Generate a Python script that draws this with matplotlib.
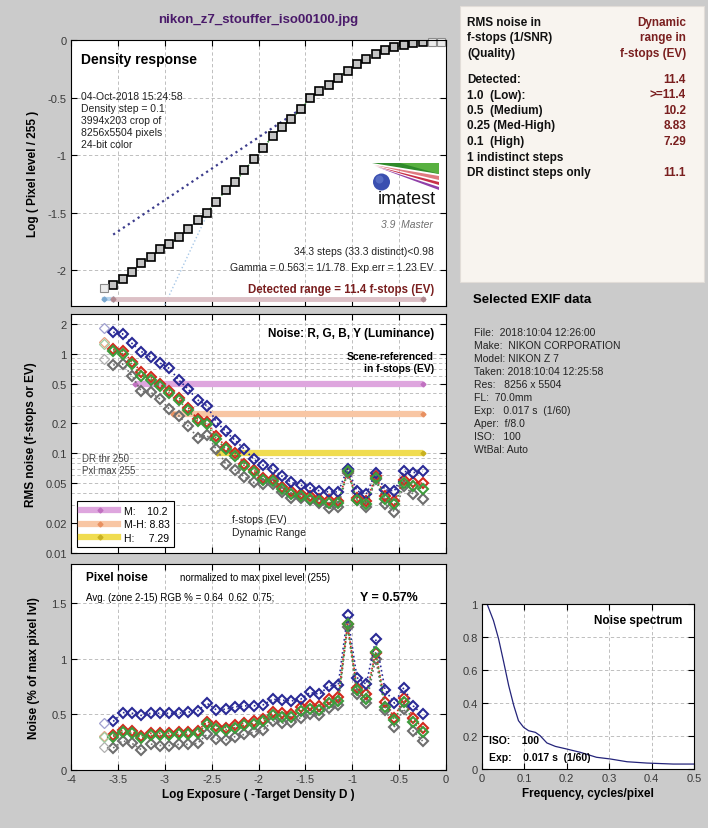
import numpy as np
import matplotlib
matplotlib.use("Agg")
import matplotlib.pyplot as plt
from matplotlib.lines import Line2D
from matplotlib.patches import Rectangle, Polygon, Circle
from matplotlib.ticker import FixedLocator, NullFormatter

plt.rcParams['font.family'] = ['Liberation Sans', 'DejaVu Sans']

# ---- data ----
log_exp = [-3.55, -3.45, -3.35, -3.25, -3.15, -3.05, -2.95, -2.85, -2.75, -2.65,
           -2.55, -2.45, -2.35, -2.25, -2.15, -2.05, -1.95, -1.85, -1.75, -1.65,
           -1.55, -1.45, -1.35, -1.25, -1.15, -1.05, -0.95, -0.85, -0.75, -0.65,
           -0.55, -0.45, -0.35, -0.25]
x_dark = -3.65                     # indistinct (lightest patch)
x_sat = [-0.15, -0.05]             # saturated patches

density = [-2.129, -2.074, -2.016, -1.939, -1.884, -1.818, -1.774, -1.714, -1.640, -1.564,
           -1.500, -1.406, -1.303, -1.234, -1.131, -1.036, -0.935, -0.838, -0.752, -0.683,
           -0.603, -0.508, -0.442, -0.393, -0.327, -0.267, -0.207, -0.161, -0.118, -0.089,
           -0.063, -0.046, -0.026, -0.020]
density_dark = -2.155
density_sat = [-0.014, -0.014]
gamma_fit_x = [-3.55, -1.55]
gamma_fit_y = [-1.69, -0.60]
aux_fit_x = [-3.0, -2.55]
aux_fit_y = [-2.30, -1.52]

rms_R = [1.11, 1.07, 0.83, 0.66, 0.58, 0.495, 0.425, 0.363, 0.288, 0.22,
         0.204, 0.149, 0.117, 0.10, 0.079, 0.068, 0.057, 0.055, 0.046, 0.042,
         0.039, 0.037, 0.035, 0.034, 0.033, 0.066, 0.036, 0.033, 0.059, 0.037,
         0.033, 0.054, 0.052, 0.050]
rms_G = [1.07, 1.0, 0.78, 0.6, 0.55, 0.47, 0.40, 0.34, 0.27, 0.21,
         0.195, 0.14, 0.11, 0.095, 0.075, 0.065, 0.054, 0.053, 0.044, 0.039,
         0.037, 0.035, 0.033, 0.032, 0.032, 0.066, 0.034, 0.031, 0.056, 0.035,
         0.031, 0.05, 0.047, 0.044]
rms_B = [1.64, 1.58, 1.27, 1.05, 0.92, 0.805, 0.71, 0.543, 0.44, 0.344,
         0.30, 0.207, 0.166, 0.135, 0.11, 0.087, 0.076, 0.070, 0.059, 0.051,
         0.048, 0.045, 0.042, 0.041, 0.041, 0.070, 0.042, 0.039, 0.064, 0.043,
         0.042, 0.066, 0.064, 0.066]
rms_Y = [0.77, 0.79, 0.60, 0.42, 0.41, 0.35, 0.277, 0.238, 0.188, 0.144,
         0.152, 0.11, 0.079, 0.068, 0.058, 0.051, 0.049, 0.049, 0.041, 0.036,
         0.036, 0.034, 0.032, 0.028, 0.029, 0.064, 0.034, 0.029, 0.055, 0.031,
         0.026, 0.047, 0.039, 0.035]
rms_dark = {"R": 1.30, "G": 1.25, "B": 1.81, "Y": 0.88}

pix_R = [0.31, 0.36, 0.346, 0.307, 0.33, 0.33, 0.33, 0.34, 0.34, 0.35,
         0.433, 0.397, 0.38, 0.405, 0.42, 0.436, 0.457, 0.52, 0.516, 0.507,
         0.57, 0.585, 0.576, 0.636, 0.657, 1.307, 0.74, 0.68, 1.054, 0.61,
         0.47, 0.65, 0.47, 0.373]
pix_G = [0.30, 0.34, 0.33, 0.29, 0.31, 0.31, 0.31, 0.32, 0.32, 0.33,
         0.41, 0.37, 0.36, 0.38, 0.40, 0.41, 0.44, 0.49, 0.48, 0.48,
         0.53, 0.55, 0.54, 0.60, 0.62, 1.31, 0.72, 0.64, 1.06, 0.57,
         0.45, 0.61, 0.43, 0.34]
pix_B = [0.436, 0.516, 0.51, 0.49, 0.51, 0.51, 0.51, 0.51, 0.52, 0.53,
         0.60, 0.54, 0.546, 0.567, 0.576, 0.576, 0.585, 0.636, 0.627, 0.62,
         0.636, 0.696, 0.68, 0.755, 0.76, 1.388, 0.83, 0.77, 1.173, 0.72,
         0.60, 0.74, 0.576, 0.50]
pix_Y = [0.197, 0.263, 0.24, 0.182, 0.233, 0.22, 0.22, 0.23, 0.23, 0.24,
         0.32, 0.28, 0.27, 0.30, 0.32, 0.34, 0.36, 0.44, 0.42, 0.43,
         0.47, 0.50, 0.49, 0.56, 0.58, 1.28, 0.68, 0.60, 1.0, 0.54,
         0.39, 0.55, 0.35, 0.26]
pix_dark = {"R": 0.307, "G": 0.30, "B": 0.42, "Y": 0.21}

# dynamic range per quality level (f-stops)
dr_labels = ["M:    10.2", "M-H: 8.83", "H:     7.29"]
dr_stops = [10.2, 8.83, 7.29]
dr_thresh = [0.5, 0.25, 0.1]

spec_f = [0.012, 0.027, 0.039, 0.051, 0.063, 0.075, 0.086, 0.098, 0.11, 0.126,
          0.137, 0.153, 0.173, 0.2, 0.232, 0.27, 0.302, 0.342, 0.389, 0.451, 0.5]
spec_v = [1.0, 0.90, 0.79, 0.65, 0.505, 0.384, 0.293, 0.253, 0.232, 0.222,
          0.202, 0.158, 0.137, 0.121, 0.101, 0.071, 0.061, 0.044, 0.036, 0.030, 0.030]

# ---- styling ----
W, H = 708, 829
BG = "#cbcbcb"
GRID = dict(ls=(0, (4, 3)), color="#b4b4b4", lw=0.6)
COL = {"R": "#d42a1e", "G": "#3c9c3c", "B": "#2a2a96", "Y": "#6e6e6e"}
COL_LT = {"R": "#e8a080", "G": "#a0cca0", "B": "#a0a0d0", "Y": "#b0b0b0"}
DR_COL = ["#dea6de", "#f8c6a4", "#f0dc50"]
DR_DARK = ["#c070c0", "#e89060", "#c8b020"]
DRED = "#7a1f1f"


def ax_px(x0, y0, x1, y1):
    return [x0 / W, 1 - y1 / H, (x1 - x0) / W, (y1 - y0) / H]


def style(ax):
    ax.set_facecolor("white")
    ax.tick_params(direction="in", length=4, top=True, right=True,
                   labelsize=8, labelcolor="#3a3a3a", pad=3)
    ax.tick_params(which="minor", length=0)
    for s in ax.spines.values():
        s.set_linewidth(0.8)
    ax.grid(True, which="both", **GRID)
    ax.set_axisbelow(True)


fig = plt.figure(figsize=(W / 100, H / 100), dpi=100, facecolor=BG)

xt = [-4, -3.5, -3, -2.5, -2, -1.5, -1, -0.5, 0]
xtl = ["-4", "-3.5", "-3", "-2.5", "-2", "-1.5", "-1", "-0.5", "0"]

# ---- density response ----
ax1 = fig.add_axes(ax_px(71, 41, 446, 307))
style(ax1)
ax1.set_xlim(-4, 0); ax1.set_ylim(-2.31, 0)
ax1.set_xticks(xt); ax1.set_xticklabels([])
ax1.set_yticks([0, -0.5, -1, -1.5, -2]); ax1.set_yticklabels(["0", "-0.5", "-1", "-1.5", "-2"])
ax1.plot(aux_fit_x, aux_fit_y, ls=":", color="#a8c8e8", lw=1)
ax1.plot(gamma_fit_x, gamma_fit_y, ls=":", color="#3c3c8c", lw=1.6)
ax1.plot(log_exp, density, ls=":", color="#3a8a3a", lw=1.2)
ax1.plot(log_exp, density, ls="none", marker="s", ms=6.3, mfc="#c4c4c4", mec="k", mew=1.2)
ax1.plot([x_dark] + x_sat, [density_dark] + density_sat, ls="none", marker="s", ms=6.3,
         mfc="#ececec", mec="#8c8c8c", mew=0.8, clip_on=False)
bar_y = -2.245
ax1.plot([x_dark, log_exp[0]], [bar_y, bar_y], color="#b8d4ec", lw=3,
         marker="D", ms=2.5, mfc="#7aa8d0", mec="#7aa8d0")
ax1.plot([log_exp[0], log_exp[-1]], [bar_y, bar_y], color="#dcc0c6", lw=3.5,
         marker="D", ms=2.5, mfc="#b08890", mec="#b08890")
ax1.set_ylabel("Log ( Pixel level / 255 )", fontsize=8.5, fontweight="bold", labelpad=6)
ax1.text(0.027, 0.929, "Density response", transform=ax1.transAxes, fontsize=10,
         fontweight="bold", va="center")
ax1.text(0.027, 0.81, "04-Oct-2018 15:24:58\nDensity step = 0.1\n3994x203 crop of\n"
         "8256x5504 pixels\n24-bit color", transform=ax1.transAxes, fontsize=7.5,
         va="top", linespacing=1.25, color="#222222")
ax1.text(0.968, 0.207, "34.3 steps (33.3 distinct)<0.98", transform=ax1.transAxes,
         fontsize=7.5, ha="right", va="center", color="#222222")
ax1.text(0.968, 0.147, "Gamma = 0.563 = 1/1.78  Exp err = 1.23 EV", transform=ax1.transAxes,
         fontsize=7.5, ha="right", va="center", color="#222222")
ax1.text(0.968, 0.064, "Detected range = 11.4 f-stops (EV)", transform=ax1.transAxes,
         fontsize=8.3, ha="right", va="center", color=DRED, fontweight="bold")
ax1.text(0.965, 0.308, "3.9  Master", transform=ax1.transAxes, fontsize=7.5,
         ha="right", va="center", color="#707070", style="italic")

# imatest logo
lg = fig.add_axes(ax_px(370, 162, 442, 208))
lg.set_xlim(0, 72); lg.set_ylim(46, 0); lg.axis("off")
lg.add_patch(Polygon([(2, 2), (69, 2), (69, 13)], color="#2f8a2a", lw=0))
lg.add_patch(Polygon([(30, 2), (69, 2), (69, 13)], color="#58b040", lw=0))
lg.add_patch(Polygon([(4, 4), (69, 15), (69, 19)], color="#e07a80", lw=0))
lg.add_patch(Polygon([(5, 5), (69, 21), (69, 24)], color="#c83048", lw=0))
lg.add_patch(Polygon([(7, 6), (69, 26), (69, 29)], color="#9040a8", lw=0))
lg.add_patch(Circle((11.5, 21), 8.5, color="#3a4fb0", lw=0))
lg.add_patch(Circle((9.5, 18.5), 4, color="#6a80d0", lw=0, alpha=0.6))
lg.text(37, 42, "imatest", fontsize=13, ha="center", va="baseline", color="#111111")

# ---- RMS noise in f-stops ----
ax2 = fig.add_axes(ax_px(71, 315, 446, 554))
style(ax2)
ax2.set_yscale("log")
ax2.set_xlim(-4, 0); ax2.set_ylim(0.01, 2.5)
ax2.set_xticks(xt); ax2.set_xticklabels([])
majors = [0.01, 0.02, 0.05, 0.1, 0.2, 0.5, 1, 2]
ax2.yaxis.set_major_locator(FixedLocator(majors))
ax2.set_yticklabels(["0.01", "0.02", "0.05", "0.1", "0.2", "0.5", "1", "2"])
ax2.yaxis.set_minor_locator(FixedLocator([m * d for d in (0.01, 0.1, 1) for m in (3, 4, 6, 7, 8, 9)]))
ax2.yaxis.set_minor_formatter(NullFormatter())
for k, thr, dr in zip(range(3), dr_thresh, dr_stops):
    x0 = log_exp[-1] - dr * np.log10(2)
    ax2.plot([x0, log_exp[-1]], [thr, thr], color=DR_COL[k], lw=4.5, solid_capstyle="butt",
             zorder=2)
    ax2.plot([x0, log_exp[-1]], [thr, thr], ls="none", marker="D", ms=2.5,
             mfc=DR_DARK[k], mec=DR_DARK[k], zorder=2)
for key, ys in (("Y", rms_Y), ("R", rms_R), ("B", rms_B), ("G", rms_G)):
    ax2.plot(log_exp, ys, ls=":", color=COL[key], lw=1.2, marker="D", ms=4.6,
             mfc="none", mec=COL[key], mew=1.5, zorder=3)
    ax2.plot([x_dark], [rms_dark[key]], ls="none", marker="D", ms=4.6, mfc="none",
             mec=COL_LT[key], mew=0.9, zorder=3)
ax2.set_ylabel("RMS noise (f-stops or EV)", fontsize=8.5, fontweight="bold", labelpad=6)
ax2.text(0.968, 0.92, "Noise: R, G, B, Y (Luminance)", transform=ax2.transAxes,
         fontsize=8.5, fontweight="bold", ha="right", va="center")
ax2.text(0.968, 0.845, "Scene-referenced\nin f-stops (EV)", transform=ax2.transAxes,
         fontsize=7.5, fontweight="bold", ha="right", va="top", multialignment="right",
         linespacing=1.3)
ax2.text(0.029, 0.372, "DR thr 250\nPxl max 255", transform=ax2.transAxes, fontsize=7,
         color="#444444", va="center", linespacing=1.3)
ax2.text(0.429, 0.115, "f-stops (EV)\nDynamic Range", transform=ax2.transAxes, fontsize=7.5,
         color="#222222", va="center", linespacing=1.3)
handles = [Line2D([], [], color=DR_COL[k], lw=4.5, marker="D", ms=2.5,
                  mfc=DR_DARK[k], mec=DR_DARK[k]) for k in range(3)]
leg = ax2.legend(handles, dr_labels, loc="lower left", bbox_to_anchor=(0.015, 0.025),
                 borderaxespad=0, fontsize=7.5, handlelength=3.6, handletextpad=0.5,
                 labelspacing=0.35, borderpad=0.4, fancybox=False, framealpha=1,
                 edgecolor="k")
leg.get_frame().set_linewidth(0.8)

# ---- pixel noise ----
ax3 = fig.add_axes(ax_px(71, 565, 446, 771))
style(ax3)
ax3.set_xlim(-4, 0); ax3.set_ylim(0, 1.85)
ax3.set_xticks(xt); ax3.set_xticklabels(xtl)
ax3.set_yticks([0, 0.5, 1, 1.5]); ax3.set_yticklabels(["0", "0.5", "1", "1.5"])
for key, ys in (("Y", pix_Y), ("R", pix_R), ("B", pix_B), ("G", pix_G)):
    ax3.plot(log_exp, ys, ls=":", color=COL[key], lw=1.2, marker="D", ms=4.6,
             mfc="none", mec=COL[key], mew=1.5, zorder=3)
    ax3.plot([x_dark], [pix_dark[key]], ls="none", marker="D", ms=4.6, mfc="none",
             mec=COL_LT[key], mew=0.9, zorder=3)
ax3.set_xlabel("Log Exposure ( -Target Density D )", fontsize=8.5, fontweight="bold", labelpad=3)
ax3.set_ylabel("Noise (% of max pixel lvl)", fontsize=8.5, fontweight="bold", labelpad=8)
ax3.text(0.04, 0.937, "Pixel noise", transform=ax3.transAxes, fontsize=8.5,
         fontweight="bold", va="center")
ax3.text(0.29, 0.937, "normalized to max pixel level (255)", transform=ax3.transAxes,
         fontsize=7, va="center")
ax3.text(0.04, 0.84, "Avg. (zone 2-15) RGB % = 0.64  0.62  0.75;", transform=ax3.transAxes,
         fontsize=7, va="center")
ax3.text(0.77, 0.84, "Y = 0.57%", transform=ax3.transAxes, fontsize=9,
         fontweight="bold", va="center")

# ---- noise spectrum ----
ax4 = fig.add_axes(ax_px(482, 605, 694, 770))
style(ax4)
ax4.set_xlim(0, 0.5); ax4.set_ylim(0, 1)
ax4.set_xticks([0, 0.1, 0.2, 0.3, 0.4, 0.5])
ax4.set_xticklabels(["0", "0.1", "0.2", "0.3", "0.4", "0.5"])
ax4.set_yticks([0, 0.2, 0.4, 0.6, 0.8, 1])
ax4.set_yticklabels(["0", "0.2", "0.4", "0.6", "0.8", "1"])
ax4.plot(spec_f, spec_v, color="#24247a", lw=0.9)
ax4.set_xlabel("Frequency, cycles/pixel", fontsize=8.5, fontweight="bold", labelpad=3)
ax4.text(0.944, 0.903, "Noise spectrum", transform=ax4.transAxes, fontsize=8.5,
         fontweight="bold", ha="right", va="center")
ax4.text(0.035, 0.176, "ISO:    100", transform=ax4.transAxes, fontsize=7.5,
         fontweight="bold", va="center")
ax4.text(0.035, 0.073, "Exp:    0.017 s  (1/60)", transform=ax4.transAxes, fontsize=7.5,
         fontweight="bold", va="center")

# ---- title and side panels ----
fig.text(258 / W, 1 - 20 / H, "nikon_z7_stouffer_iso00100.jpg", ha="center", va="center",
         fontsize=9.5, fontweight="bold", color="#4a1a6a")

fig.patches.append(Rectangle((460 / W, 1 - 283 / H), 244 / W, 276 / H, transform=fig.transFigure,
                             facecolor="#f8f4ef", edgecolor="#e2ddd8", lw=0.8))
left_rows = ["RMS noise in", "f-stops (1/SNR)", "(Quality)", "",
             "Detected:", "1.0  (Low):", "0.5  (Medium)", "0.25 (Med-High)",
             "0.1  (High)", "1 indistinct steps", "DR distinct steps only"]
right_rows = ["Dynamic", "range in", "f-stops (EV)", "",
              "11.4", ">=11.4", "10.2", "8.83", "7.29", "", "11.1"]
row_y = [23, 38.5, 54, 0, 80, 95.5, 111, 126.5, 142, 157.5, 173]
for l, r, y in zip(left_rows, right_rows, row_y):
    if l:
        fig.text(467 / W, 1 - y / H, l, fontsize=8.5, fontweight="bold", va="center",
                 color="#111111")
    if r:
        fig.text(686 / W, 1 - y / H, r, fontsize=8.5, fontweight="bold", va="center",
                 ha="right", color=DRED)

fig.text(473 / W, 1 - 300 / H, "Selected EXIF data", fontsize=9.5, fontweight="bold",
         va="center")
exif = ["File:  2018:10:04 12:26:00", "Make:  NIKON CORPORATION", "Model: NIKON Z 7",
        "Taken: 2018:10:04 12:25:58", "Res:   8256 x 5504", "FL:  70.0mm",
        "Exp:   0.017 s  (1/60)", "Aper:  f/8.0", "ISO:   100", "WtBal: Auto"]
for i, line in enumerate(exif):
    fig.text(474 / W, 1 - (333 + 13 * i) / H, line, fontsize=7.5, va="center",
             color="#222222")

fig.savefig("out.png", dpi=100, facecolor=BG)
